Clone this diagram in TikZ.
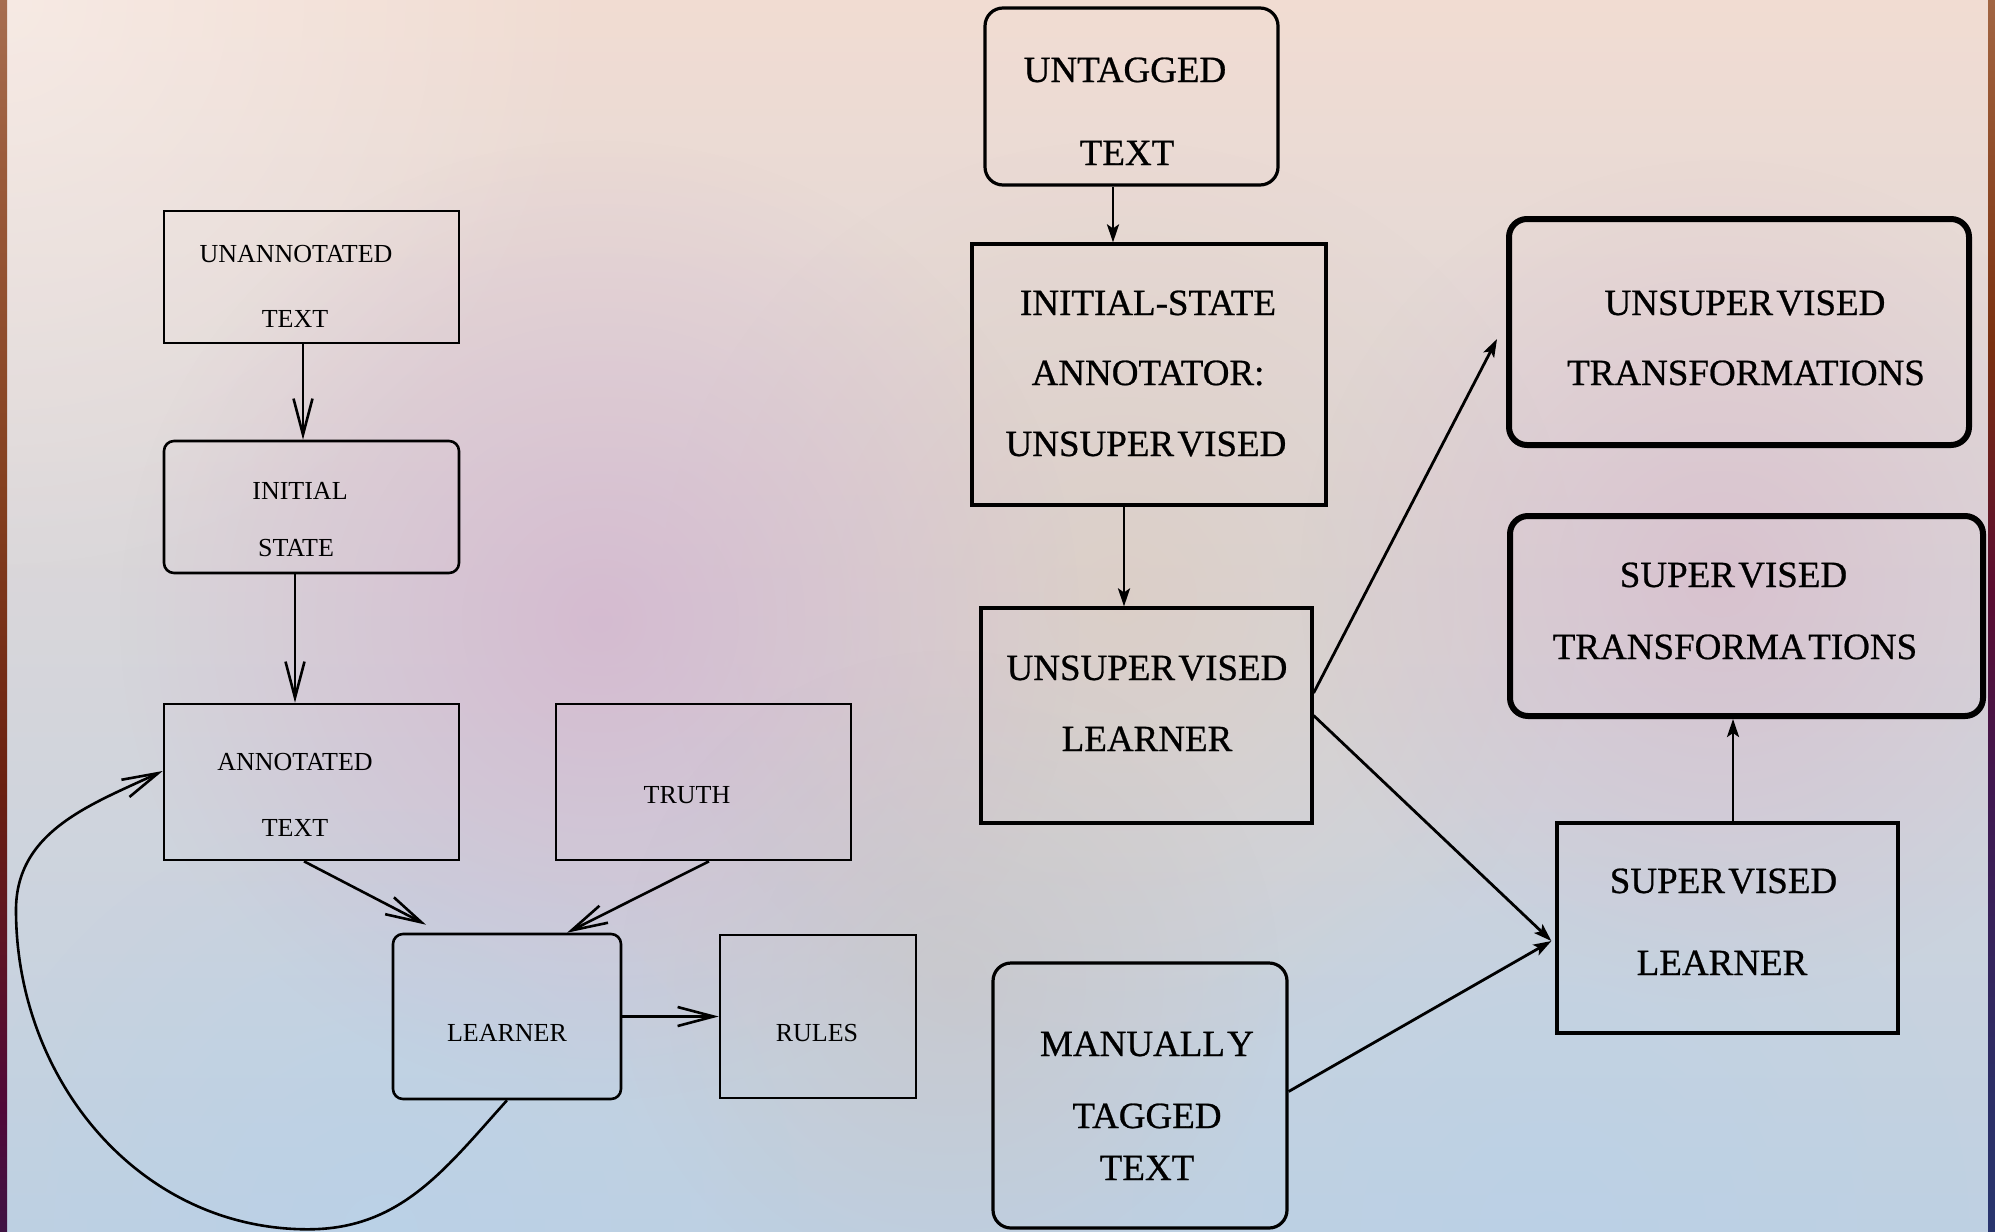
\documentclass[tikz,border=0pt]{standalone}
\usepackage{fontspec}
\setmainfont{Liberation Serif}
\newfontfamily\scanfont{Liberation Serif}[FakeBold=0.7]
\usetikzlibrary{arrows.meta,calc,fadings}

% soft round patch: opaque centre, transparent rim
\tikzfading[name=softspot, inner color=transparent!0, outer color=transparent!100]

% page background
\definecolor{bgtop}{HTML}{F1DCD2}
\definecolor{bgmid}{HTML}{DCC0C6}
\definecolor{bgbot}{HTML}{BED0E2}
\definecolor{mauve}{HTML}{D4B0CC}
\definecolor{rose}{HTML}{D8B2C6}
\definecolor{peach}{HTML}{DECABC}
\definecolor{greige}{HTML}{C8C0C0}
\definecolor{skyblue}{HTML}{B8D2EA}

% left edge strip
\definecolor{lA}{HTML}{163C6E}
\definecolor{lB}{HTML}{203060}
\definecolor{lC}{HTML}{3A1848}
\definecolor{lD}{HTML}{500838}
\definecolor{lE}{HTML}{6A2010}
\definecolor{lF}{HTML}{84401F}
\definecolor{lG}{HTML}{9A5A3A}
\definecolor{lH}{HTML}{B88A70}
\definecolor{lI}{HTML}{D2B2A0}
% right edge strip
\definecolor{rA}{HTML}{1E4A80}
\definecolor{rB}{HTML}{24407A}
\definecolor{rC}{HTML}{2C2E66}
\definecolor{rD}{HTML}{401850}
\definecolor{rE}{HTML}{5A0C30}
\definecolor{rF}{HTML}{7A3010}
\definecolor{rG}{HTML}{9A5A36}
\definecolor{rH}{HTML}{C0967C}
\definecolor{rI}{HTML}{D6B8A6}

\pgfdeclareverticalshading{leftedge}{100bp}{color(0bp)=(lA); color(11bp)=(lB); color(23bp)=(lC); color(30bp)=(lD); color(43bp)=(lE); color(55bp)=(lF); color(68bp)=(lG); color(85bp)=(lH); color(100bp)=(lI)}
\pgfdeclareverticalshading{rightedge}{100bp}{color(0bp)=(rA); color(17bp)=(rB); color(31bp)=(rC); color(43bp)=(rD); color(51bp)=(rE); color(61bp)=(rF); color(72bp)=(rG); color(88bp)=(rH); color(100bp)=(rI)}

\begin{document}
\begin{tikzpicture}[x=0.5pt, y=-0.5pt,
  lbox/.style={draw=black, line width=1.3pt, inner sep=0pt},
  lround/.style={lbox, rounded corners=5pt},
  rbox/.style={draw=black, line width=1.6pt, inner sep=0pt},
  rround/.style={rbox, rounded corners=9pt},
  rheavy/.style={draw=black, line width=3pt, rounded corners=9pt, inner sep=0pt},
  ltxt/.style={anchor=base, inner sep=0pt, font=\fontsize{13}{13}\selectfont},
  rtxt/.style={anchor=base, inner sep=0pt, font=\scanfont\fontsize{18.5}{18.5}\selectfont},
  larrow/.style={draw=black, line width=1.3pt, -{Straight Barb[length=18pt, width=9.5pt]}},
  rarrow/.style={draw=black, line width=1.4pt, -{Stealth[length=9pt, width=6pt, inset=2pt]}},
]
\useasboundingbox (0,0) rectangle (1995,1231);

% ---- background ----
\shade[top color=bgtop, middle color=bgmid, bottom color=bgbot] (0,0) rectangle (1995,1231);
\begin{scope}
  \clip (0,0) rectangle (1995,1231);
  \fill[white, opacity=0.4, path fading=softspot] (0,0) circle (600);
  \fill[peach, opacity=0.6, path fading=softspot] (1120,600) circle (460);
  \fill[mauve, opacity=0.7, path fading=softspot] (600,620) circle (480);
  \fill[rose, opacity=0.55, path fading=softspot] (1720,580) circle (420);
  \fill[greige, opacity=0.5, path fading=softspot] (950,980) circle (330);
  \fill[skyblue, opacity=0.55, path fading=softspot] (380,1231) circle (420);
  \fill[skyblue, opacity=0.45, path fading=softspot] (1550,1231) circle (420);
\end{scope}
\shade[shading=leftedge] (0,0) rectangle (7,1231);
\shade[shading=rightedge] (1988,0) rectangle (1995,1231);

% ---- left flow ----
\node[lbox, minimum width=147.5pt, minimum height=66pt] (unann) at (311.5,277) {};
\node[lround, minimum width=147.5pt, minimum height=66pt] (init) at (311.5,507) {};
\node[lbox, minimum width=147.5pt, minimum height=78pt] (ann) at (311.5,782) {};
\node[lbox, minimum width=147.5pt, minimum height=78pt] (truth) at (703.5,782) {};
\node[lround, minimum width=114pt, minimum height=82.5pt] (learner) at (507,1016.5) {};
\node[lbox, minimum width=98pt, minimum height=81.5pt] (rules) at (818,1016.5) {};

\node[ltxt] (unann-a) at (296,262) {UNANNOTATED};
\node[ltxt] (unann-b) at (295,327) {TEXT};
\node[ltxt] (init-a) at (300,499) {INITIAL};
\node[ltxt] (init-b) at (296,556) {STATE};
\node[ltxt] (ann-a) at (295,770) {ANNOTATED};
\node[ltxt] (ann-b) at (295,836) {TEXT};
\node[ltxt] (truth-a) at (687,803) {TRUTH};
\node[ltxt] (learner-a) at (507,1041) {LEARNER};
\node[ltxt] (rules-a) at (817,1041) {RULES};

\draw[larrow] ([xshift=-4.25pt]unann.south) -- ([xshift=-4.25pt]unann.south |- init.north);
\draw[larrow] ([xshift=-8.25pt]init.south) -- ([xshift=-8.25pt]init.south |- ann.north);
\draw[larrow] ([xshift=-3.75pt]ann.south) -- ([xshift=-40.5pt, yshift=4pt]learner.north);
\draw[larrow] ([xshift=2.75pt]truth.south) -- ([xshift=30pt]learner.north);
\draw[larrow] (learner.east) -- (rules.west);
\draw[larrow] (learner.south) to[out=-132, in=0] ++(-199,129) coordinate (loopbot)
  to[out=180, in=-90] (16,910) coordinate (loopleft)
  to[out=90, in=-155] ([yshift=5.5pt]ann.west);

% ---- right flow ----
\node[rround, minimum width=146.5pt, minimum height=88.5pt] (untag) at (1131.5,96.5) {};
\node[rbox, minimum width=177pt, minimum height=130.5pt] (isa) at (1149,374.5) {};
\node[rbox, minimum width=165.5pt, minimum height=107.5pt] (ul) at (1146.5,715.5) {};
\node[rheavy, minimum width=230pt, minimum height=113pt] (ut) at (1739,332) {};
\node[rheavy, minimum width=236.5pt, minimum height=100pt] (st) at (1746.5,616) {};
\node[rbox, minimum width=170.5pt, minimum height=105pt] (sl) at (1727.5,928) {};
\node[rround, minimum width=147pt, minimum height=132.5pt] (mt) at (1140,1095.5) {};

\node[rtxt] (untag-a) at (1125,82) {UNTAGGED};
\node[rtxt] (untag-b) at (1127,165) {TEXT};
\node[rtxt] (isa-a) at (1148,315) {INITIAL-STATE};
\node[rtxt] (isa-b) at (1148,385) {ANNOTATOR:};
\node[rtxt] (isa-c) at (1146,456) {UNSUPER\kern0.09em VISED};
\node[rtxt] (ul-a) at (1147,680) {UNSUPER\kern0.09em VISED};
\node[rtxt] (ul-b) at (1147,751) {LEARNER};
\node[rtxt] (ut-a) at (1745,315) {UNSUPER\kern0.09em VISED};
\node[rtxt] (ut-b) at (1746,385) {TRANSFORMATIONS};
\node[rtxt] (st-a) at (1733.5,587) {SUPER\kern0.09em VISED};
\node[rtxt] (st-b) at (1735,659) {TRANSFORMA\kern0.07em TIONS};
\node[rtxt] (sl-a) at (1723.5,893) {SUPER\kern0.09em VISED};
\node[rtxt] (sl-b) at (1722,975) {LEARNER};
\node[rtxt] (mt-a) at (1147,1056) {MANUALL\kern0.06em Y};
\node[rtxt] (mt-b) at (1147,1128) {TAGGED};
\node[rtxt] (mt-c) at (1147,1180) {TEXT};

\draw[rarrow] ([xshift=-9.25pt]untag.south) -- ([xshift=-9.25pt]untag.south |- isa.north);
\draw[rarrow] ([xshift=-12.5pt]isa.south) -- ([xshift=-12.5pt]isa.south |- ul.north);
\draw[rarrow] ([yshift=11.25pt]ul.east) -- ([xshift=-4.5pt, yshift=-3.5pt]ut.west);
\draw[rarrow] (ul.east) -- ([xshift=-2pt, yshift=-6.5pt]sl.west);
\draw[rarrow] ([yshift=2pt]mt.east) -- ([xshift=-2pt, yshift=-6.5pt]sl.west);
\draw[rarrow] ([xshift=2.75pt]sl.north) -- ([xshift=2.75pt]sl.north |- st.south);
\end{tikzpicture}
\end{document}
